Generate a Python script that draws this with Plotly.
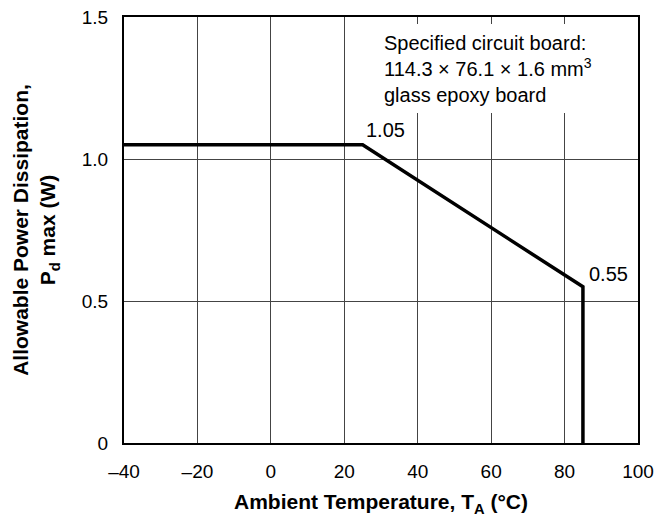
import plotly.graph_objects as go

temps = [-40, 25, 85, 85]
power = [1.05, 1.05, 0.55, 0.0]
x_ticks = [-40, -20, 0, 20, 40, 60, 80, 100]
x_labels = ["\u201340", "\u201320", "0", "20", "40", "60", "80", "100"]
y_ticks = [0, 0.5, 1.0, 1.5]
y_labels = ["0", "0.5", "1.0", "1.5"]

FONT = "Liberation Sans, Arial, sans-serif"

fig = go.Figure()
fig.add_trace(go.Scatter(x=temps, y=power, mode="lines",
                         line=dict(color="black", width=3.5), showlegend=False,
                         hoverinfo="skip"))

fig.update_layout(
    width=657, height=527,
    margin=dict(l=124, r=19, t=17, b=84, autoexpand=False),
    paper_bgcolor="white", plot_bgcolor="white",
    font=dict(family=FONT, size=20, color="black"),
    xaxis=dict(range=[-40, 100], tickvals=x_ticks, ticktext=x_labels,
               showgrid=True, gridcolor="#444444", gridwidth=1,
               showline=True, linecolor="black", linewidth=2, mirror=True,
               ticks="", zeroline=False, ticklabelstandoff=10,
               tickfont=dict(family=FONT, size=19),
               title=dict(text="Ambient Temperature, T<sub>A</sub> (°C)",
                          font=dict(family=FONT, size=21, weight="bold"),
                          standoff=14)),
    yaxis=dict(range=[0, 1.5], tickvals=y_ticks, ticktext=y_labels,
               showgrid=True, gridcolor="#444444", gridwidth=1,
               showline=True, linecolor="black", linewidth=2, mirror=True,
               ticks="", zeroline=False, ticklabelstandoff=10,
               tickfont=dict(family=FONT, size=19),
               title=dict(text="Allowable Power Dissipation,<br>P<sub>d</sub> max (W)",
                          font=dict(family=FONT, size=21, weight="bold"),
                          standoff=20)),
)

# white backing behind the note
fig.add_shape(type="rect", xref="x", yref="y", x0=30, x1=93, y0=1.162, y1=1.475,
              fillcolor="white", line=dict(width=0), layer="between")

fig.add_annotation(x=30.3, y=1.317, xref="x", yref="y", xanchor="left", yanchor="middle",
                   align="left", showarrow=False,
                   text="Specified circuit board:<br>114.3 × 76.1 × 1.6 mm<sup>3</sup><br>glass epoxy board",
                   font=dict(family=FONT, size=20, color="black"))
fig.add_annotation(x=25, y=1.05, xref="x", yref="y", xanchor="left", yanchor="middle",
                   showarrow=False, text="1.05", xshift=1, yshift=15,
                   font=dict(family=FONT, size=20, color="black"))
fig.add_annotation(x=85, y=0.55, xref="x", yref="y", xanchor="left", yanchor="middle",
                   showarrow=False, text="0.55", xshift=4, yshift=13,
                   font=dict(family=FONT, size=20, color="black"))

fig.write_html("out.html",
               config={"displayModeBar": False},
               post_script="document.body.style.margin='0';document.body.style.overflow='hidden';")
